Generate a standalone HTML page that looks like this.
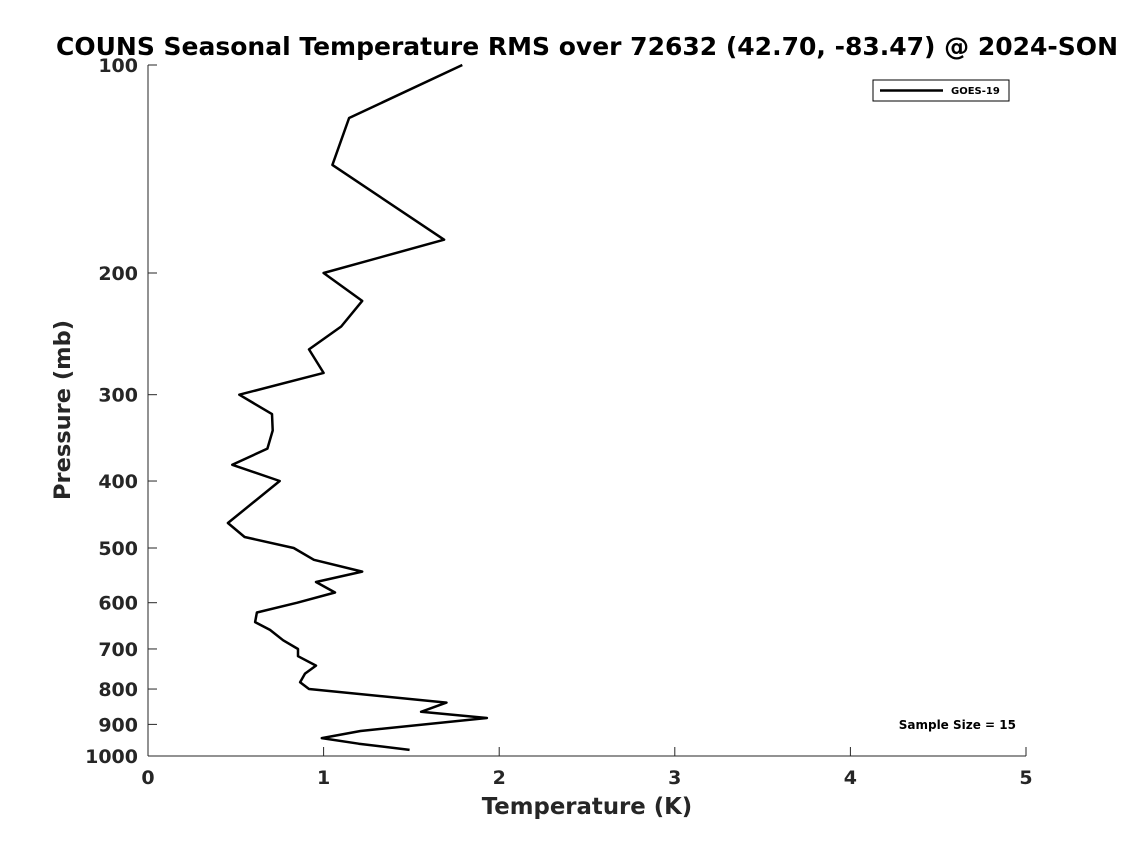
<!DOCTYPE html>
<html><head><meta charset="utf-8"><style>
html,body{margin:0;padding:0;background:#fff;}
svg{display:block;font-family:"DejaVu Sans","Liberation Sans",sans-serif;}
</style></head><body>
<svg id="chart" width="1135" height="851">
<text x="587" y="55" text-anchor="middle" font-size="25" font-weight="bold" fill="#000">COUNS Seasonal Temperature RMS over 72632 (42.70, -83.47) @ 2024-SON</text>
<g id="axes"></g>
<text x="587" y="814" text-anchor="middle" font-size="22.8" font-weight="bold" fill="#262626">Temperature (K)</text>
<text transform="translate(70,410) rotate(-90)" text-anchor="middle" font-size="22.5" font-weight="bold" fill="#262626">Pressure (mb)</text>
<g>
<rect x="873" y="80" width="136" height="21" fill="#fff" stroke="#000" stroke-width="1"/>
<line x1="880" y1="90.5" x2="943" y2="90.5" stroke="#000" stroke-width="2.5"/>
<text x="951" y="94" font-size="10" font-weight="bold">GOES-19</text>
</g>
<text x="1016" y="729" text-anchor="end" font-size="12" font-weight="bold">Sample Size = 15</text>
</svg>
<script>
const xTicks = [0,1,2,3,4,5];
const yTicks = [100,200,300,400,500,600,700,800,900,1000];
const rmsValues = [1.79,1.145,1.05,1.686,1.0,1.22,1.10,0.917,1.0,0.52,0.706,0.71,0.68,0.48,0.75,0.455,0.55,0.83,0.945,1.22,0.957,1.065,0.85,0.62,0.61,0.695,0.77,0.854,0.854,0.957,0.894,0.866,0.917,1.70,1.555,1.93,1.21,0.99,1.2,1.49];
const pressures = [100,119.3,139.5,179,200,219.5,239,258,279,300,320,338,359,379,400,460,482,500,520,541,560,580,600,620,640,657,680,700,717,740,760,782,800,837,863,881,920,942,960,980];
const X0=148,X1=1026,Y0=65,Y1=756;
function xs(v){return X0+(v-0)/5*(X1-X0);}
function ys(p){return Y0+(Math.log10(p)-2)/1*(Y1-Y0);}
const NS="http://www.w3.org/2000/svg";
const g=document.getElementById('axes');
function mk(t,a){const e=document.createElementNS(NS,t);for(const k in a)e.setAttribute(k,a[k]);g.appendChild(e);return e;}
const xl=mk('line',{x1:X0,y1:Y1,x2:X1,y2:Y1,stroke:'#262626','stroke-width':1});


const yl=mk('line',{x1:X0,y1:Y0,x2:X0,y2:Y1,stroke:'#262626','stroke-width':1});


xTicks.forEach(v=>{
  mk('line',{x1:xs(v),y1:Y1,x2:xs(v),y2:Y1-9,stroke:'#262626'});
  const t=mk('text',{x:xs(v),y:Y1+28,'text-anchor':'middle','font-size':19,'font-weight':'bold',fill:'#262626'});
  t.textContent=v;
  
  
});
yTicks.forEach(p=>{
  mk('line',{x1:X0,y1:ys(p),x2:X0+9,y2:ys(p),stroke:'#262626'});
  const t=mk('text',{x:X0-10,y:ys(p)+7,'text-anchor':'end','font-size':19,'font-weight':'bold',fill:'#262626'});
  t.textContent=p;
  
  
});
const pts=rmsValues.map((v,i)=>xs(v).toFixed(1)+','+ys(pressures[i]).toFixed(1)).join(' ');
const pl=mk('polyline',{points:pts,fill:'none',stroke:'#000','stroke-width':2.5,'stroke-linejoin':'round'});


</script>
</body></html>
